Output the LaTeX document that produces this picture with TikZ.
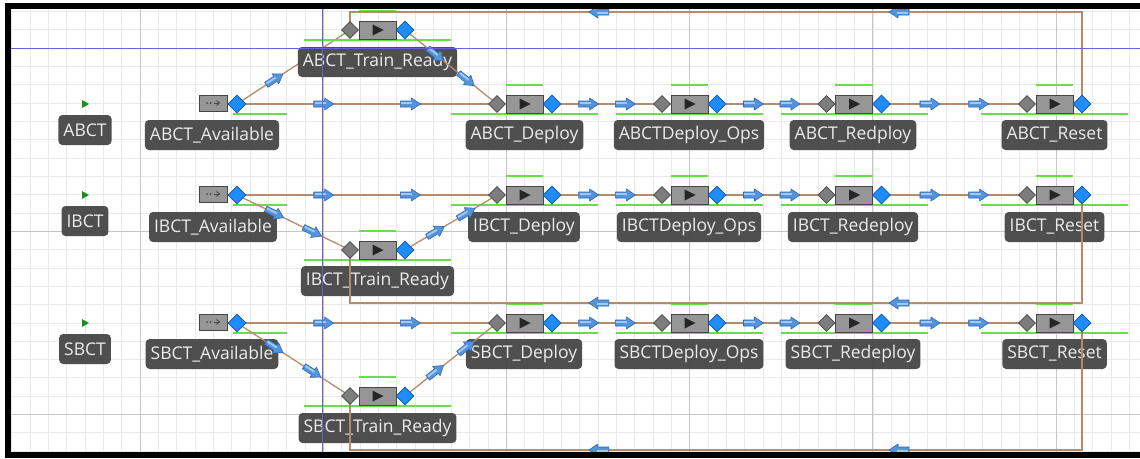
\documentclass[tikz,border=0pt]{standalone}
\usepackage{fontspec}
\newfontfamily\labfont{Open Sans}
\usetikzlibrary{shapes.geometric,calc}
\pgfdeclarelayer{grid}\pgfdeclarelayer{lab}\pgfdeclarelayer{conn}\pgfdeclarelayer{top}
\pgfsetlayers{grid,lab,conn,main,top}
\definecolor{brownc}{RGB}{184,138,108}
\definecolor{greenc}{RGB}{105,222,75}
\definecolor{bluedia}{RGB}{30,140,250}
\definecolor{bluedark}{RGB}{20,85,170}
\definecolor{greyd}{RGB}{125,125,125}
\definecolor{greydark}{RGB}{70,70,70}
\definecolor{boxgrey}{RGB}{150,150,150}
\definecolor{labgrey}{RGB}{72,72,72}
\definecolor{labtext}{RGB}{236,236,236}
\definecolor{gridfine}{RGB}{233,233,233}
\definecolor{gridmajor}{RGB}{198,198,198}
\definecolor{axisblue}{RGB}{100,100,215}
\definecolor{arrowblue}{RGB}{85,148,218}
\definecolor{arrowdark}{RGB}{45,105,185}
\definecolor{arrowlight}{RGB}{160,200,240}
\definecolor{trigreen}{RGB}{30,140,30}
\tikzset{
  procbox/.style={draw=greydark, fill=boxgrey, line width=0.8pt, minimum width=37pt, minimum height=18pt, inner sep=0pt},
  srcbox/.style={draw=greydark, fill=boxgrey, line width=0.8pt, minimum width=28pt, minimum height=16pt, inner sep=0pt},
  india/.style={diamond, draw=greydark, fill=greyd, line width=0.6pt, minimum width=17pt, minimum height=17pt, inner sep=0pt},
  outdia/.style={diamond, draw=bluedark, fill=bluedia, line width=0.6pt, minimum width=18pt, minimum height=18pt, inner sep=0pt},
  lbl/.style={fill=labgrey, fill opacity=0.96, text opacity=1, text=labtext, rounded corners=4pt,
    font=\labfont\fontsize{17.5}{20}\selectfont, inner xsep=5pt, inner ysep=0pt, minimum height=30pt},
  conn/.style={draw=brownc, line width=1.3pt},
  greenbar/.style={draw=greenc, line width=2pt},
  fa/.style={pos=#1, sloped, allow upside down},
  flowarrow/.pic={
    \filldraw[fill=arrowblue, draw=arrowdark, line width=0.6pt, line join=round]
      (-10,-3) -- (1,-3) -- (1,-6) -- (10,0) -- (1,6) -- (1,3) -- (-10,3) -- cycle;
    \fill[arrowlight] (-9,-2) -- (2,-2) -- (2,0) -- (-9,0) -- cycle;
  }
}
% process unit: name, x of box centre, y of row
\newcommand\procunit[3]{%
  \node[procbox] (#1) at (#2,#3) {};
  \node[india] (#1-in) at ({#2-27.5},#3) {};
  \node[outdia] (#1-out) at ({#2+27.5},#3) {};
  \fill[black!85] ([shift={(-5,-5.5)}]#1.center) -- ([shift={(6,0)}]#1.center) -- ([shift={(-5,5.5)}]#1.center) -- cycle;
  \begin{pgfonlayer}{conn}
    \draw[greenbar] ([yshift=10pt]#1.north west) -- ([yshift=10pt]#1.north east);
    \draw[greenbar] ({#2-73.5},{#3+9.5}) -- ({#2+73.5},{#3+9.5});
  \end{pgfonlayer}}
% source unit: name, x of box centre, y of row
\newcommand\srcunit[3]{%
  \node[srcbox] (#1) at (#2,{#3-1}) {};
  \node[outdia] (#1-out) at ({#2+24},#3) {};
  \fill[greydark] ([xshift=-6pt]#1.center) circle (1pt);
  \fill[greydark] ([xshift=-2.5pt]#1.center) circle (1pt);
  \draw[greydark, line width=0.8pt] ([xshift=0.5pt]#1.center) -- ([xshift=6pt]#1.center);
  \draw[greydark, line width=0.8pt] ([shift={(3.5,-2.5)}]#1.center) -- ([shift={(6.5,0)}]#1.center) -- ([shift={(3.5,2.5)}]#1.center);
  \begin{pgfonlayer}{conn}
    \draw[greenbar] ({#2+20},{#3+9.5}) -- ({#2+74},{#3+9.5});
  \end{pgfonlayer}}
% row connectors: prefix, y of return line
\newcommand\rowconn[2]{%
  \draw[conn] (#1-src-out.center) -- (#1-dep-in.center) pic[fa=0.333]{flowarrow} pic[fa=0.667]{flowarrow};
  \draw[conn] (#1-tr-out.center) -- (#1-dep-in.center) pic[fa=0.333]{flowarrow} pic[fa=0.667]{flowarrow};
  \draw[conn] (#1-dep-out.center) -- (#1-ops-in.center) pic[fa=0.333]{flowarrow} pic[fa=0.667]{flowarrow};
  \draw[conn] (#1-ops-out.center) -- (#1-red-in.center) pic[fa=0.333]{flowarrow} pic[fa=0.667]{flowarrow};
  \draw[conn] (#1-red-out.center) -- (#1-res-in.center) pic[fa=0.333]{flowarrow} pic[fa=0.667]{flowarrow};
  \coordinate (#1-c1) at (1082,#2);
  \coordinate (#1-c2) at (350,#2);
  \draw[conn] (#1-res-out.center) -- (#1-c1) -- (#1-c2) pic[fa=0.25]{flowarrow} pic[fa=0.66]{flowarrow} -- (#1-tr-in.center);}
\begin{document}
\begin{tikzpicture}[x=1pt,y=-1pt]
\useasboundingbox (0,0) rectangle (1140,458);
\begin{pgfonlayer}{grid}
  \fill[white] (0,0) rectangle (1140,458);
  \foreach \k in {-7,...,54} \draw[gridfine, line width=0.6pt] ({140+\k*18.32},9) -- ({140+\k*18.32},452);
  \foreach \k in {-2,...,22} \draw[gridfine, line width=0.6pt] (11,{48+\k*18.32}) -- (1140,{48+\k*18.32});
  \foreach \k in {0,...,5} \draw[gridmajor, line width=0.9pt] ({140+\k*183.2},9) -- ({140+\k*183.2},452);
  \foreach \k in {0,1,2} \draw[gridmajor, line width=0.9pt] (11,{48+\k*183.2}) -- (1140,{48+\k*183.2});
\end{pgfonlayer}
% ---- blocks ----
\srcunit{A-src}{213}{104}
\procunit{A-tr}{377.5}{30}
\procunit{A-dep}{524.5}{104}
\procunit{A-ops}{689.5}{104}
\procunit{A-red}{854}{104}
\procunit{A-res}{1054.5}{104}
\srcunit{I-src}{213}{195}
\procunit{I-tr}{377.5}{250}
\procunit{I-dep}{524.5}{195}
\procunit{I-ops}{689.5}{195}
\procunit{I-red}{854}{195}
\procunit{I-res}{1054.5}{195}
\srcunit{S-src}{213}{323}
\procunit{S-tr}{377.5}{396}
\procunit{S-dep}{524.5}{323}
\procunit{S-ops}{689.5}{323}
\procunit{S-red}{854}{323}
\procunit{S-res}{1054.5}{323}
% start markers
\foreach \yy in {104,195,323} \fill[trigreen] (82,{\yy-4}) -- (89,\yy) -- (82,{\yy+4}) -- cycle;
% ---- labels ----
\begin{pgfonlayer}{lab}
  \draw[conn] (A-src-out.center) -- (A-tr-in.center) pic[fa=0.333]{flowarrow} pic[fa=0.667]{flowarrow};
  \node[lbl] (A-name) at (85,130) {ABCT};
  \node[lbl] (A-src-lab) at (212,135) {ABCT\_Available};
  \node[lbl] (A-tr-lab) at (377.5,62) {ABCT\_Train\_Ready};
  \node[lbl] (A-dep-lab) at (524.5,135) {ABCT\_Deploy};
  \node[lbl] (A-ops-lab) at (689,135) {ABCTDeploy\_Ops};
  \node[lbl] (A-red-lab) at (853,135) {ABCT\_Redploy};
  \node[lbl] (A-res-lab) at (1054.5,135) {ABCT\_Reset};
  \node[lbl] (I-name) at (85,221) {IBCT};
  \node[lbl] (I-src-lab) at (213,227) {IBCT\_Available};
  \node[lbl] (I-tr-lab) at (377.5,281) {IBCT\_Train\_Ready};
  \node[lbl] (I-dep-lab) at (524,227) {IBCT\_Deploy};
  \node[lbl] (I-ops-lab) at (689,227) {IBCTDeploy\_Ops};
  \node[lbl] (I-red-lab) at (853,227) {IBCT\_Redeploy};
  \node[lbl] (I-res-lab) at (1054.5,227) {IBCT\_Reset};
  \node[lbl] (S-name) at (85,349) {SBCT};
  \node[lbl] (S-src-lab) at (212,354) {SBCT\_Available};
  \node[lbl] (S-tr-lab) at (377.5,428) {SBCT\_Train\_Ready};
  \node[lbl] (S-dep-lab) at (524,354) {SBCT\_Deploy};
  \node[lbl] (S-ops-lab) at (689,354) {SBCTDeploy\_Ops};
  \node[lbl] (S-red-lab) at (853,354) {SBCT\_Redeploy};
  \node[lbl] (S-res-lab) at (1054.5,354) {SBCT\_Reset};
\end{pgfonlayer}
% ---- connectors ----
\begin{pgfonlayer}{conn}
  \rowconn{A}{12}
  \rowconn{I}{303}
  \rowconn{S}{450}
  \draw[conn] (I-src-out.center) -- (I-tr-in.center) pic[fa=0.333]{flowarrow} pic[fa=0.667]{flowarrow};
  \draw[conn] (S-src-out.center) -- (S-tr-in.center) pic[fa=0.333]{flowarrow} pic[fa=0.667]{flowarrow};
\end{pgfonlayer}
% ---- axes and frame ----
\begin{pgfonlayer}{top}
  \draw[axisblue, line width=1pt] (322,9) -- (322,452);
  \draw[axisblue, line width=1pt] (11,48.5) -- (1140,48.5);
  \fill[black] (5,3) rectangle (1140,9);
  \fill[black] (5,3) rectangle (11,458);
  \fill[black] (5,452) rectangle (1140,458);
\end{pgfonlayer}
\end{tikzpicture}
\end{document}
